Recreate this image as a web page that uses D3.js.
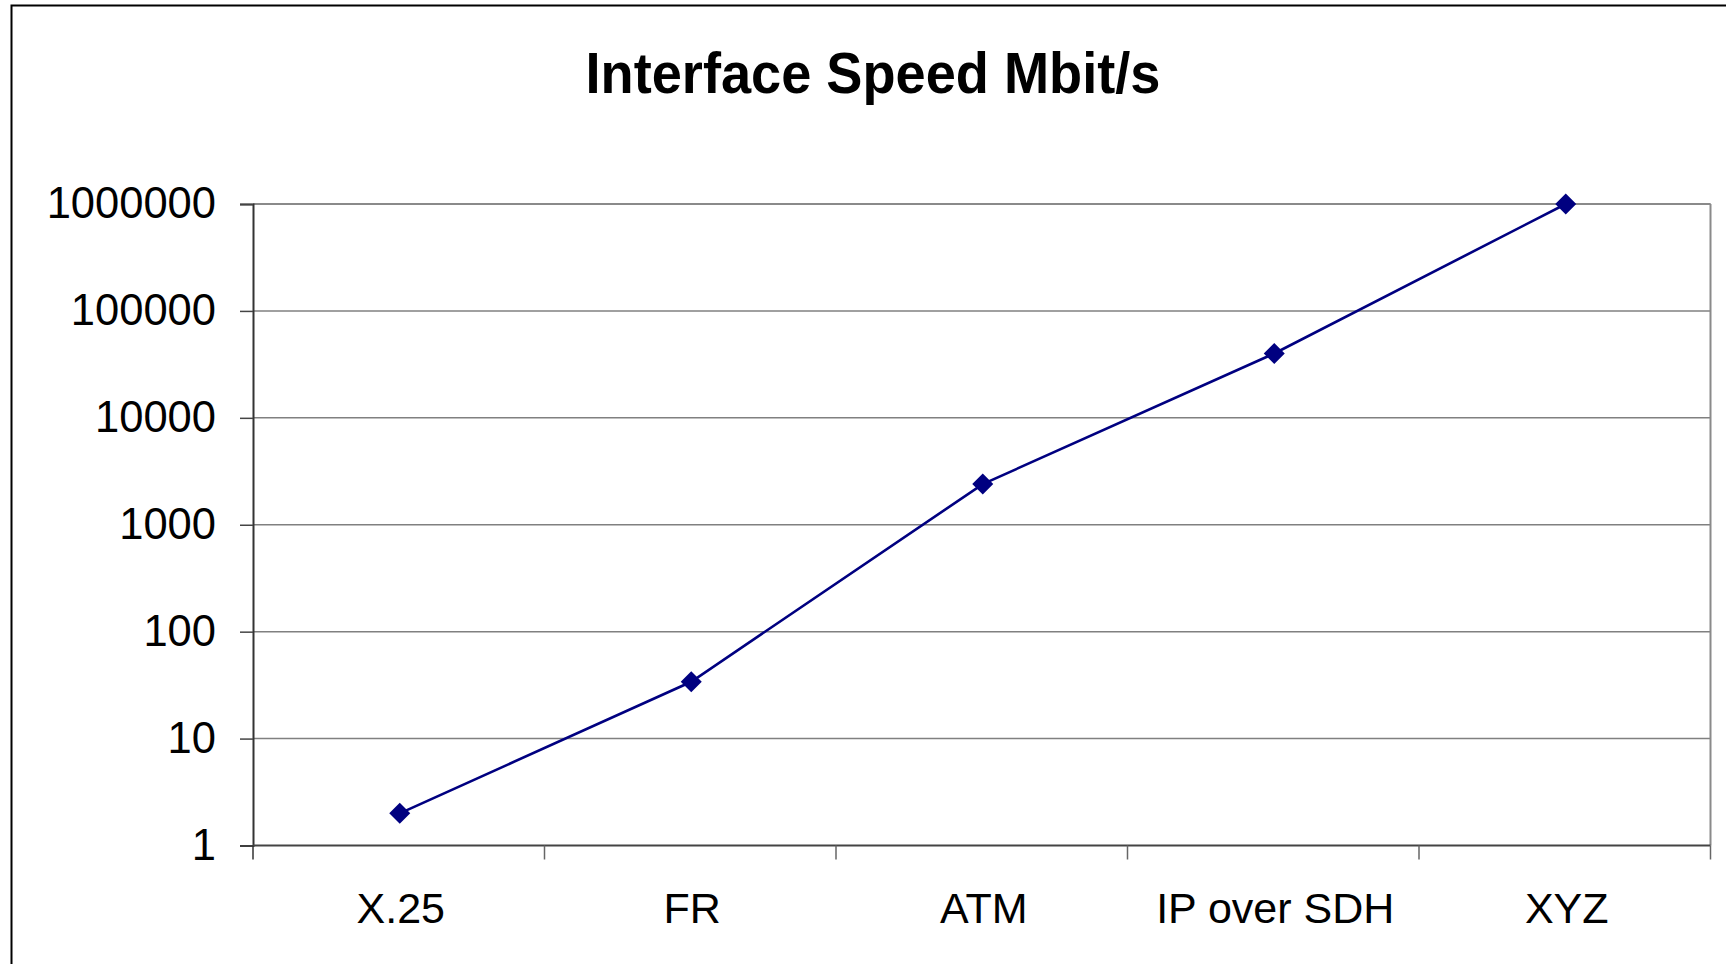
<!DOCTYPE html>
<html>
<head>
<meta charset="utf-8">
<script src="https://cdn.jsdelivr.net/npm/d3@7/dist/d3.min.js"></script>
<style>
  html, body { margin: 0; padding: 0; background: #fff; }
  svg { display: block; }
  text { font-family: "Liberation Sans", Arial, sans-serif; fill: #000; }
</style>
</head>
<body>
<svg id="chart" width="1726" height="964"></svg>
<script>
const categories = ["X.25", "FR", "ATM", "IP over SDH", "XYZ"];
const speeds = [2, 34, 2400, 40000, 1000000];
const yTickValues = [1, 10, 100, 1000, 10000, 100000, 1000000];
const titleText = "Interface Speed Mbit/s";

const svg = d3.select("#chart");
const W = 1726, H = 964;
const plot = { left: 253, right: 1710.5, top: 204, bottom: 845.5 };

// outer chart border (extends past the viewport on right/bottom)
svg.append("rect")
  .attr("x", 11.5).attr("y", 5.5)
  .attr("width", W).attr("height", H)
  .attr("fill", "#fff").attr("stroke", "#000").attr("stroke-width", 2);

const x = d3.scaleBand().domain(categories).range([plot.left, plot.right]);
const y = d3.scaleLog().domain([1, 1000000]).range([plot.bottom, plot.top]);

// gridlines
svg.append("g").selectAll("line")
  .data(yTickValues.filter(d => d > 1))
  .join("line")
  .attr("x1", plot.left).attr("x2", plot.right)
  .attr("y1", d => y(d)).attr("y2", d => y(d))
  .attr("stroke", "#808080").attr("stroke-width", 1.5);

// plot area border (top / right)
svg.append("line")
  .attr("x1", plot.right).attr("x2", plot.right)
  .attr("y1", plot.top).attr("y2", plot.bottom)
  .attr("stroke", "#8a8a8a").attr("stroke-width", 2);
svg.append("line")
  .attr("x1", plot.left).attr("x2", plot.right)
  .attr("y1", plot.top).attr("y2", plot.top)
  .attr("stroke", "#8a8a8a").attr("stroke-width", 2);

// left axis
const yAxis = d3.axisLeft(y)
  .tickValues(yTickValues)
  .tickFormat(d3.format("d"))
  .tickSize(13)
  .tickPadding(24);
const gy = svg.append("g").attr("transform", `translate(${plot.left},0)`).call(yAxis);
gy.select(".domain").attr("stroke", "#333").attr("stroke-width", 2);
gy.selectAll(".tick line").attr("stroke", "#444").attr("stroke-width", 1.5);
gy.selectAll(".tick text")
  .attr("font-size", 43.5)
  .attr("font-family", "'Liberation Sans', Arial, sans-serif")
  .attr("fill", "#000");

// bottom axis: labels centred on bands, ticks on band boundaries
const xAxis = d3.axisBottom(x).tickSize(0).tickPadding(0);
const gx = svg.append("g").attr("transform", `translate(2,${plot.bottom})`).call(xAxis);
gx.select(".domain").remove();
gx.selectAll(".tick text")
  .attr("font-size", 43)
  .attr("font-family", "'Liberation Sans', Arial, sans-serif")
  .attr("fill", "#000")
  .attr("dy", null)
  .attr("y", 77);

svg.append("line")
  .attr("x1", plot.left).attr("x2", plot.right)
  .attr("y1", plot.bottom).attr("y2", plot.bottom)
  .attr("stroke", "#444").attr("stroke-width", 2);

const boundaries = categories.map(c => x(c)).concat([x.range()[1]]);
svg.append("g").selectAll("line")
  .data(boundaries)
  .join("line")
  .attr("x1", d => d).attr("x2", d => d)
  .attr("y1", plot.bottom).attr("y2", plot.bottom + 14)
  .attr("stroke", (d, i) => i === 0 ? "#333" : "#666")
  .attr("stroke-width", 1.5);

// series line
const pts = categories.map((c, i) => ({ c, v: speeds[i] }));
const cx = d => x(d.c) + x.bandwidth() / 2 + 1;
svg.append("path")
  .datum(pts)
  .attr("d", d3.line().x(cx).y(d => y(d.v)))
  .attr("fill", "none")
  .attr("stroke", "#000080")
  .attr("stroke-width", 2.6);

// diamond markers
const r = 10.5;
svg.append("g").selectAll("path")
  .data(pts)
  .join("path")
  .attr("d", d => {
    const px = cx(d), py = y(d.v);
    return `M${px},${py - r}L${px + r},${py}L${px},${py + r}L${px - r},${py}Z`;
  })
  .attr("fill", "#000080");

// title
svg.append("text")
  .attr("x", 873).attr("y", 93)
  .attr("text-anchor", "middle")
  .attr("font-size", 57)
  .attr("font-weight", "bold")
  .attr("textLength", 575)
  .attr("lengthAdjust", "spacingAndGlyphs")
  .text(titleText);
</script>
</body>
</html>
